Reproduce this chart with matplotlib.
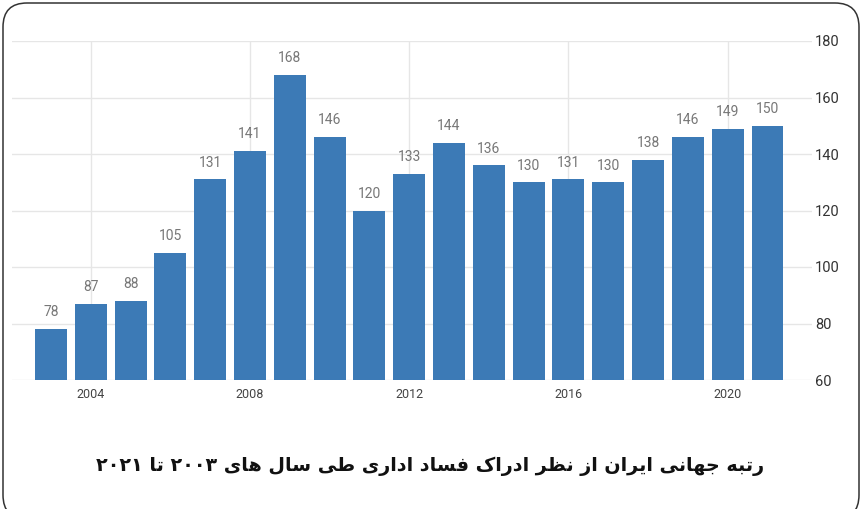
import matplotlib
matplotlib.use('Agg')
import matplotlib.pyplot as plt
from matplotlib.patches import FancyBboxPatch
from matplotlib.transforms import IdentityTransform


# Data.
years = [2003, 2004, 2005, 2006, 2007, 2008, 2009, 2010, 2011, 2012,
         2013, 2014, 2015, 2016, 2017, 2018, 2019, 2020, 2021]
ranks = [78, 87, 88, 105, 131, 141, 168, 146, 120, 133,
         144, 136, 130, 131, 130, 138, 146, 149, 150]
x_ticks = [2004, 2008, 2012, 2016, 2020]
y_ticks = [60, 80, 100, 120, 140, 160, 180]
title = 'رتبه جهانی ایران از نظر ادراک فساد اداری طی سال های ۲۰۰۳ تا ۲۰۲۱'

BAR_COLOR = '#3c7ab6'

# Arabic presentation forms: isolated, final, initial, medial.
# Right-joining letters have no initial / medial form.
FORMS = {
    'ا': ('\uFE8D', '\uFE8E', None, None),
    'ب': ('\uFE8F', '\uFE90', '\uFE91', '\uFE92'),
    'ت': ('\uFE95', '\uFE96', '\uFE97', '\uFE98'),
    'ج': ('\uFE9D', '\uFE9E', '\uFE9F', '\uFEA0'),
    'د': ('\uFEA9', '\uFEAA', None, None),
    'ر': ('\uFEAD', '\uFEAE', None, None),
    'ز': ('\uFEAF', '\uFEB0', None, None),
    'س': ('\uFEB1', '\uFEB2', '\uFEB3', '\uFEB4'),
    'ط': ('\uFEC1', '\uFEC2', '\uFEC3', '\uFEC4'),
    'ظ': ('\uFEC5', '\uFEC6', '\uFEC7', '\uFEC8'),
    'ف': ('\uFED1', '\uFED2', '\uFED3', '\uFED4'),
    'ل': ('\uFEDD', '\uFEDE', '\uFEDF', '\uFEE0'),
    'ن': ('\uFEE5', '\uFEE6', '\uFEE7', '\uFEE8'),
    'ه': ('\uFEE9', '\uFEEA', '\uFEEB', '\uFEEC'),
    'ک': ('\uFB8E', '\uFB8F', '\uFB90', '\uFB91'),
    'ی': ('\uFBFC', '\uFBFD', '\uFBFE', '\uFBFF'),
}


def shape_word(word):
    # Pick the contextual form of each letter.
    out = []
    for i, ch in enumerate(word):
        if ch not in FORMS:
            out.append(ch)
            continue
        prev = word[i - 1] if i > 0 else None
        nxt = word[i + 1] if i < len(word) - 1 else None
        join_prev = prev in FORMS and FORMS[prev][2] is not None
        join_next = nxt in FORMS and FORMS[ch][2] is not None
        iso, fin, ini, med = FORMS[ch]
        if join_prev and join_next:
            out.append(med)
        elif join_prev:
            out.append(fin)
        elif join_next:
            out.append(ini)
        else:
            out.append(iso)
    return ''.join(out)


def to_visual(text):
    # matplotlib draws left to right, so flip word order and letters,
    # but keep digit runs in their own order.
    words = []
    for w in reversed(text.split(' ')):
        s = shape_word(w)
        if all('\u06F0' <= c <= '\u06F9' for c in w):
            words.append(s)
        else:
            words.append(s[::-1])
    return ' '.join(words)


fig = plt.figure(figsize=(8.62, 5.09), dpi=100)
ax = fig.add_axes([12 / 862, 1 - 380 / 509, 800 / 862, 339 / 509])

bars = ax.bar(years, [r - 60 for r in ranks], bottom=60, width=0.8,
              color=BAR_COLOR, zorder=3)

for yr, r in zip(years, ranks):
    ax.annotate(str(r), (yr, r), xytext=(0, 7), textcoords='offset points',
                ha='center', va='bottom', fontsize=10, color='#777777',
                family='Roboto')

ax.set_ylim(60, 180)
ax.set_xlim(2002.02, 2022.12)
ax.set_xticks(x_ticks)
ax.set_xticklabels([str(t) for t in x_ticks], family='Roboto',
                   fontsize=9, color='#444444')
ax.set_yticks(y_ticks)
ax.set_yticklabels([str(t) for t in y_ticks], family='Roboto',
                   fontsize=10.5, color='#333333')
ax.yaxis.tick_right()
ax.tick_params(axis='both', length=0)
ax.tick_params(axis='y', pad=2)
ax.tick_params(axis='x', pad=6)
ax.grid(True, color='#e6e6e6', linewidth=1, zorder=0)
for s in ax.spines.values():
    s.set_visible(False)

# Title under the chart.
fig.text(430 / 862, 1 - 466 / 509, to_visual(title), ha='center',
         va='center', fontsize=13.8, fontweight='bold',
         family=['DejaVu Sans'], color='#111111')

# Rounded frame around the whole picture.
frame = FancyBboxPatch((3, -10), 856, 516,
                       boxstyle='round,pad=0,rounding_size=24',
                       transform=IdentityTransform(), fill=False,
                       edgecolor='#333333', linewidth=1.1)
fig.add_artist(frame)

fig.savefig('out.png', dpi=100)
